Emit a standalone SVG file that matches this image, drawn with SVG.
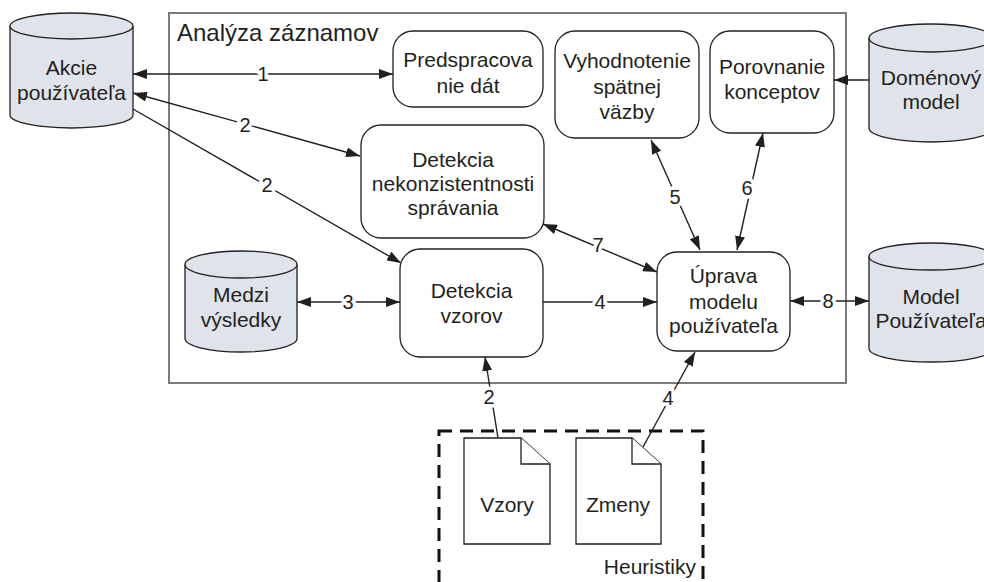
<svg xmlns="http://www.w3.org/2000/svg" width="984" height="582" viewBox="0 0 984 582">
  <defs>
    <style>
      text { font-family: "Liberation Sans", Arial, sans-serif; font-size: 21px; fill: #231f20; }
      .c { text-anchor: middle; }
      .title { font-size: 24px; }
      .box { fill: #ffffff; stroke: #231f20; stroke-width: 1.3; }
      .db { fill: #dfe3ea; stroke: #231f20; stroke-width: 1.3; }
      .doc { fill: #ffffff; stroke: #231f20; stroke-width: 1.3; }
      .frame { fill: none; stroke: #7a7a7a; stroke-width: 2; }
      .dash { fill: none; stroke: #111111; stroke-width: 3; stroke-dasharray: 13 8; }
      .edge { fill: none; stroke: #231f20; stroke-width: 1.4; }
      .lbl { font-size: 20px; text-anchor: middle; paint-order: stroke; stroke: #ffffff; stroke-width: 7px; stroke-linejoin: round; }
    </style>
    <marker id="arrow" viewBox="0 0 14 10" refX="14" refY="5" markerWidth="14" markerHeight="10" markerUnits="userSpaceOnUse" orient="auto-start-reverse">
      <path d="M0,0 L14,5 L0,10 z" fill="#231f20"/>
    </marker>
  </defs>

  <rect width="984" height="582" fill="#ffffff"/>

  <!-- log analysis frame -->
  <g id="analyza">
    <rect class="frame" x="169" y="13" width="677" height="370"/>
    <text class="title" x="177" y="41">Analýza záznamov</text>
  </g>

  <!-- heuristics group -->
  <g id="heuristiky">
    <rect class="dash" x="439" y="431" width="264" height="190"/>
    <text x="696" y="574" text-anchor="end">Heuristiky</text>
  </g>

  <!-- connectors -->
  <g id="connectors">
    <line class="edge" x1="133" y1="74" x2="393" y2="74" marker-start="url(#arrow)" marker-end="url(#arrow)"/>
    <line class="edge" x1="133" y1="93" x2="360" y2="156" marker-start="url(#arrow)" marker-end="url(#arrow)"/>
    <line class="edge" x1="133" y1="109" x2="401" y2="263" marker-end="url(#arrow)"/>
    <line class="edge" x1="297" y1="302" x2="400" y2="302" marker-start="url(#arrow)" marker-end="url(#arrow)"/>
    <line class="edge" x1="543" y1="302" x2="657" y2="302" marker-end="url(#arrow)"/>
    <line class="edge" x1="651" y1="140" x2="700" y2="250" marker-start="url(#arrow)" marker-end="url(#arrow)"/>
    <line class="edge" x1="763" y1="133" x2="737" y2="250" marker-start="url(#arrow)" marker-end="url(#arrow)"/>
    <line class="edge" x1="543" y1="224" x2="657" y2="272" marker-start="url(#arrow)" marker-end="url(#arrow)"/>
    <line class="edge" x1="790" y1="301" x2="869" y2="301" marker-start="url(#arrow)" marker-end="url(#arrow)"/>
    <line class="edge" x1="869" y1="80" x2="834" y2="80" marker-end="url(#arrow)"/>
    <line class="edge" x1="498" y1="438" x2="485" y2="357" marker-end="url(#arrow)"/>
    <line class="edge" x1="643" y1="447" x2="695" y2="352" marker-end="url(#arrow)"/>

    <text class="lbl" x="263" y="81">1</text>
    <text class="lbl" x="245" y="132">2</text>
    <text class="lbl" x="267" y="192">2</text>
    <text class="lbl" x="348" y="309">3</text>
    <text class="lbl" x="600" y="309">4</text>
    <text class="lbl" x="675" y="204">5</text>
    <text class="lbl" x="747" y="195">6</text>
    <text class="lbl" x="598" y="252">7</text>
    <text class="lbl" x="828" y="308">8</text>
    <text class="lbl" x="489" y="404">2</text>
    <text class="lbl" x="668" y="405">4</text>
  </g>

  <!-- data stores -->
  <g id="akcie">
    <path class="db" d="M10,26 V115 A61.5,13 0 0 0 133,115 V26"/>
    <ellipse class="db" cx="71.5" cy="26" rx="61.5" ry="13"/>
    <text class="c" x="71.5" y="75">Akcie</text>
    <text class="c" x="71.5" y="100">používateľa</text>
  </g>

  <g id="medzi">
    <path class="db" d="M185,264.5 V338.5 A56,13.5 0 0 0 297,338.5 V264.5"/>
    <ellipse class="db" cx="241" cy="264.5" rx="56" ry="13.5"/>
    <text class="c" x="241" y="302">Medzi</text>
    <text class="c" x="241" y="327">výsledky</text>
  </g>

  <g id="domenovy">
    <path class="db" d="M869,38 V128 A62,14 0 0 0 993,128 V38"/>
    <ellipse class="db" cx="931" cy="38" rx="62" ry="14"/>
    <text class="c" x="931" y="85">Doménový</text>
    <text class="c" x="931" y="109">model</text>
  </g>

  <g id="model">
    <path class="db" d="M869,256.5 V348.5 A62,13.5 0 0 0 993,348.5 V256.5"/>
    <ellipse class="db" cx="931" cy="256.5" rx="62" ry="13.5"/>
    <text class="c" x="931" y="304">Model</text>
    <text class="c" x="931" y="328">Používateľa</text>
  </g>

  <!-- processes -->
  <g id="predspracovanie">
    <rect class="box" x="393" y="31" width="150" height="76" rx="20"/>
    <text class="c" x="468" y="67">Predspracova</text>
    <text class="c" x="468" y="93">nie dát</text>
  </g>

  <g id="vyhodnotenie">
    <rect class="box" x="555" y="31" width="144" height="107" rx="20"/>
    <text class="c" x="627" y="68">Vyhodnotenie</text>
    <text class="c" x="627" y="94">spätnej</text>
    <text class="c" x="627" y="119">väzby</text>
  </g>

  <g id="porovnanie">
    <rect class="box" x="710" y="31" width="124" height="102" rx="20"/>
    <text class="c" x="772" y="74">Porovnanie</text>
    <text class="c" x="772" y="99">konceptov</text>
  </g>

  <g id="nekonzistentnost">
    <rect class="box" x="361" y="125" width="183" height="113" rx="20"/>
    <text class="c" x="453" y="167">Detekcia</text>
    <text class="c" x="453" y="191">nekonzistentnosti</text>
    <text class="c" x="453" y="215">správania</text>
  </g>

  <g id="vzory-detekcia">
    <rect class="box" x="400" y="249" width="143" height="108" rx="20"/>
    <text class="c" x="471.5" y="298">Detekcia</text>
    <text class="c" x="471.5" y="323">vzorov</text>
  </g>

  <g id="uprava">
    <rect class="box" x="657" y="252" width="133" height="99" rx="20"/>
    <text class="c" x="723.5" y="283">Úprava</text>
    <text class="c" x="723.5" y="309">modelu</text>
    <text class="c" x="723.5" y="333">používateľa</text>
  </g>

  <!-- documents -->
  <g id="vzory">
    <path class="doc" d="M464,438 H521 L550,464 V544 H464 Z"/>
    <path class="doc" d="M521,438 V464 H550" fill="none"/>
    <text class="c" x="507" y="512">Vzory</text>
  </g>

  <g id="zmeny">
    <path class="doc" d="M576,438 H632 L661,464 V544 H576 Z"/>
    <path class="doc" d="M632,438 V464 H661" fill="none"/>
    <text class="c" x="618" y="512">Zmeny</text>
  </g>
</svg>
